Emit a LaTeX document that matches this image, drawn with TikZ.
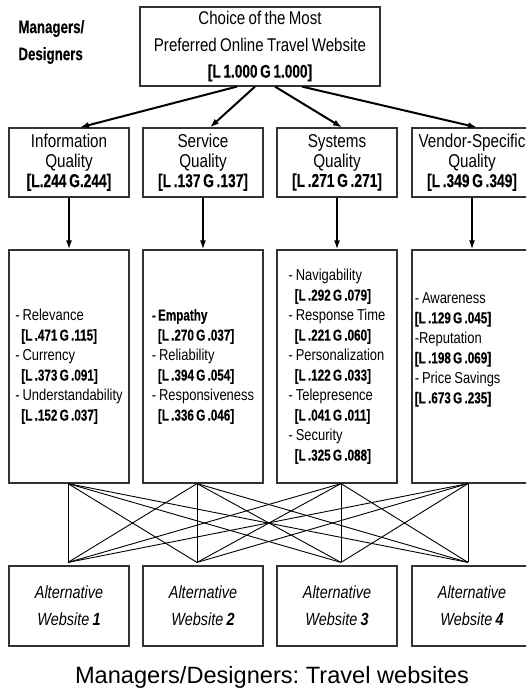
\documentclass[tikz,border=0pt]{standalone}
\usepackage{fontspec}
\setmainfont{Liberation Sans}[FakeStretch=0.82,WordSpace=0.8,BoldFeatures={FakeStretch=0.74,WordSpace=0.7,FakeBold=0.3}]
\newfontfamily\capfont{Liberation Sans}
\usetikzlibrary{arrows.meta,positioning,calc}
\frenchspacing

\tikzset{
    box/.style={draw=black!80, line width=0.6pt, minimum width=60pt, inner sep=0pt, align=center},
    goalbox/.style={box, minimum width=120pt, minimum height=39.5pt, font=\fontsize{9.2}{13.2}\selectfont},
    critbox/.style={box, minimum height=34.5pt, font=\fontsize{9.3}{9.9}\selectfont},
    subbox/.style={box, minimum height=116.5pt, align=left, font=\fontsize{7.9}{10}\selectfont},
    subtext/.style={inner sep=0pt, align=left, font=\fontsize{7.9}{10}\selectfont},
    altbox/.style={box, minimum height=40pt, font=\fontsize{8.8}{13.5}\selectfont\itshape},
    toparrow/.style={line width=1pt, -{Latex[length=4.5pt,width=3.2pt]}},
    downarrow/.style={line width=0.8pt, -{Latex[length=4.5pt,width=3pt]}},
    link/.style={line width=0.45pt}
}
\newcommand{\ind}{\hspace*{3pt}}

\begin{document}
\begin{tikzpicture}[x=0.5pt,y=-0.5pt]
    \useasboundingbox (0,0) rectangle (526,689);
    \clip (0,0) rectangle (526,689);

    % Goal
    \node[goalbox] (goal) at (260,46.5) {Choice of the Most\\Preferred Online Travel Website\\\textbf{[L 1.000 G 1.000]}};
    \node[anchor=west, inner sep=0pt, align=left, font=\fontsize{9}{13.5}\selectfont\bfseries] (who) at (18,42) {Managers/\\Designers};

    % Criteria
    \node[critbox] (crit1) at (69,162.5) {Information\\Quality\\\textbf{[L.244 G.244]}};
    \node[critbox] (crit2) at (203,162.5) {Service\\Quality\\\textbf{[L .137 G .137]}};
    \node[critbox] (crit3) at (337,162.5) {Systems\\Quality\\\textbf{[L .271 G .271]}};
    \node[critbox] (crit4) at (472,162.5) {Vendor-Specific\\Quality\\\textbf{[L .349 G .349]}};

    % Sub-criteria
    \node[subbox] (sub1) at (69,366.5) {- Relevance\\\ind\textbf{[L .471 G .115]}\\- Currency\\\ind\textbf{[L .373 G .091]}\\- Understandability\\\ind\textbf{[L .152 G .037]}};
    \node[subbox] (sub2) at (203,366.5) {\textbf{- Empathy}\\\ind\textbf{[L .270 G .037]}\\- Reliability\\\ind\textbf{[L .394 G .054]}\\- Responsiveness\\\ind\textbf{[L .336 G .046]}};
    \node[subbox] (sub3) at (337,366.5) {- Navigability\\\ind\textbf{[L .292 G .079]}\\- Response Time\\\ind\textbf{[L .221 G .060]}\\- Personalization\\\ind\textbf{[L .122 G .033]}\\- Telepresence\\\ind\textbf{[L .041 G .011]}\\- Security\\\ind\textbf{[L .325 G .088]}};
    \node[subbox] (sub4) at (472,366.5) {};
    \node[subtext, anchor=west] (sub4txt) at ($(sub4.west)+(3,-17)$) {- Awareness\\\textbf{[L .129 G .045]}\\-Reputation\\\textbf{[L .198 G .069]}\\- Price Savings\\\textbf{[L .673 G .235]}};

    % Alternatives
    \node[altbox] (alt1) at (69,606) {Alternative\\Website \textbf{1}};
    \node[altbox] (alt2) at (203,606) {Alternative\\Website \textbf{2}};
    \node[altbox] (alt3) at (337,606) {Alternative\\Website \textbf{3}};
    \node[altbox] (alt4) at (472,606) {Alternative\\Website \textbf{4}};

    \node[font=\capfont\fontsize{11.8}{14}\selectfont] (caption) at (272,677) {Managers/Designers: Travel websites};

    % Connections
    \draw[toparrow] ($(goal.south)+(-23,0)$) -- ($(crit1.north)+(11,0)$);
    \draw[toparrow] ($(goal.south)+(-5,0)$) -- ($(crit2.north)+(7,0)$);
    \draw[toparrow] ($(goal.south)+(15,0)$) -- ($(crit3.north)+(5,0)$);
    \draw[toparrow] ($(goal.south)+(42,0)$) -- ($(crit4.north)+(5,0)$);
    \foreach \i in {1,...,4}
        \draw[downarrow] (crit\i.south) -- (sub\i.north);

    \coordinate (up1) at ($(sub1.south)+(-1,0)$);
    \coordinate (up2) at ($(sub2.south)+(-6,0)$);
    \coordinate (up3) at ($(sub3.south)+(4,0)$);
    \coordinate (up4) at ($(sub4.south)+(-4,0)$);
    \coordinate (lo1) at ($(alt1.north)+(-1,-3)$);
    \coordinate (lo2) at ($(alt2.north)+(-6,-3)$);
    \coordinate (lo3) at ($(alt3.north)+(4,-3)$);
    \coordinate (lo4) at ($(alt4.north)+(-4,-3)$);
    \foreach \i in {1,...,4}
        \foreach \j in {1,...,4}
            \draw[link] (up\i) -- (lo\j);
\end{tikzpicture}
\end{document}
